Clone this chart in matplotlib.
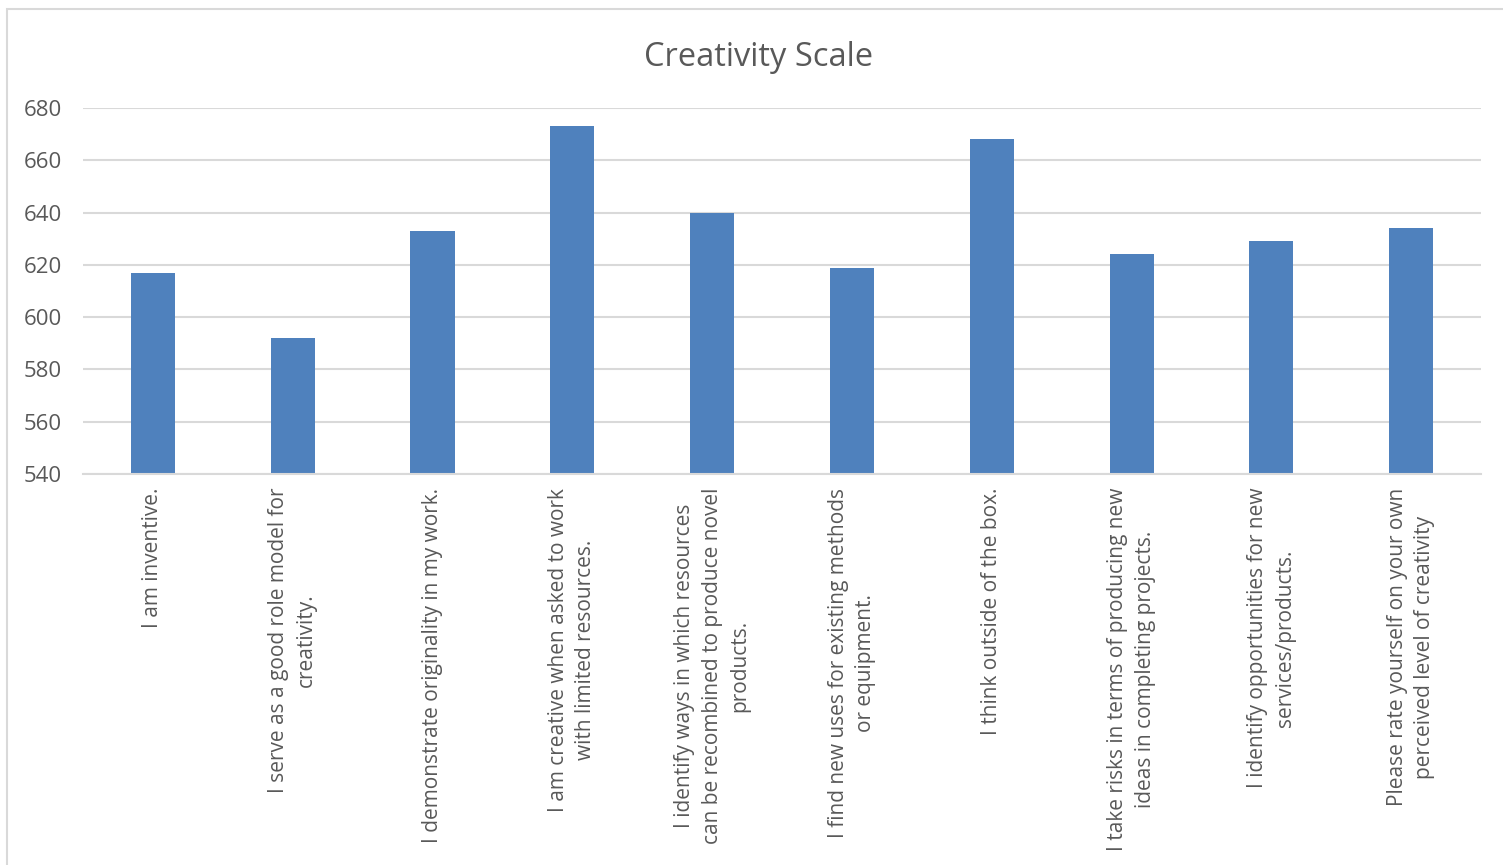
import numpy as np
import matplotlib
matplotlib.use("Agg")
import matplotlib.pyplot as plt
from matplotlib.patches import Rectangle

plt.rcParams['font.family'] = ['Open Sans', 'DejaVu Sans']

items = [
    "I am inventive.",
    "I serve as a good role model for\ncreativity.",
    "I demonstrate originality in my work.",
    "I am creative when asked to work\nwith limited resources.",
    "I identify ways in which resources\ncan be recombined to produce novel\nproducts.",
    "I find new uses for existing methods\nor equipment.",
    "I think outside of the box.",
    "I take risks in terms of producing new\nideas in completing projects.",
    "I identify opportunities for new\nservices/products.",
    "Please rate yourself on your own\nperceived level of creativity",
]
scores = [617, 592, 633, 673, 640, 619, 668, 624, 629, 634]
yticks = [540, 560, 580, 600, 620, 640, 660, 680]

text_col = '#595959'
grid_col = '#D9D9D9'

fig = plt.figure(figsize=(15.03, 8.65), dpi=100)
ax = fig.add_axes([0.0552, 0.452, 0.9302, 0.4231])

x = np.arange(len(items))
ax.bar(x, scores, width=0.315, color='#4F81BD', zorder=3)

ax.set_ylim(540, 680)
ax.set_xlim(-0.5, len(items) - 0.5)
ax.set_yticks(yticks)
ax.set_xticks(x)
ax.set_xticklabels(items, rotation=90, ha='center', va='top',
                   multialignment='center', fontsize=15, color=text_col,
                   linespacing=1.4)
ax.tick_params(axis='y', length=0, labelsize=16, labelcolor=text_col, pad=15)
ax.tick_params(axis='x', length=0, pad=10)
ax.yaxis.grid(True, color=grid_col, linewidth=1.5, zorder=0)

for side in ['top', 'right', 'left']:
    ax.spines[side].set_visible(False)
ax.spines['bottom'].set_color(grid_col)
ax.spines['bottom'].set_linewidth(1.5)
ax.spines['bottom'].set_zorder(4)

fig.text(0.505, 0.934, "Creativity Scale", ha='center', va='center',
         fontsize=23.5, color=text_col)

# outer chart frame
fig.patches.append(Rectangle((7 / 1503, -0.1), 1.2, 1.1 - 9 / 865,
                             transform=fig.transFigure, fill=False,
                             edgecolor=grid_col, linewidth=1.5))

fig.savefig('out.png', dpi=100, facecolor='white')
